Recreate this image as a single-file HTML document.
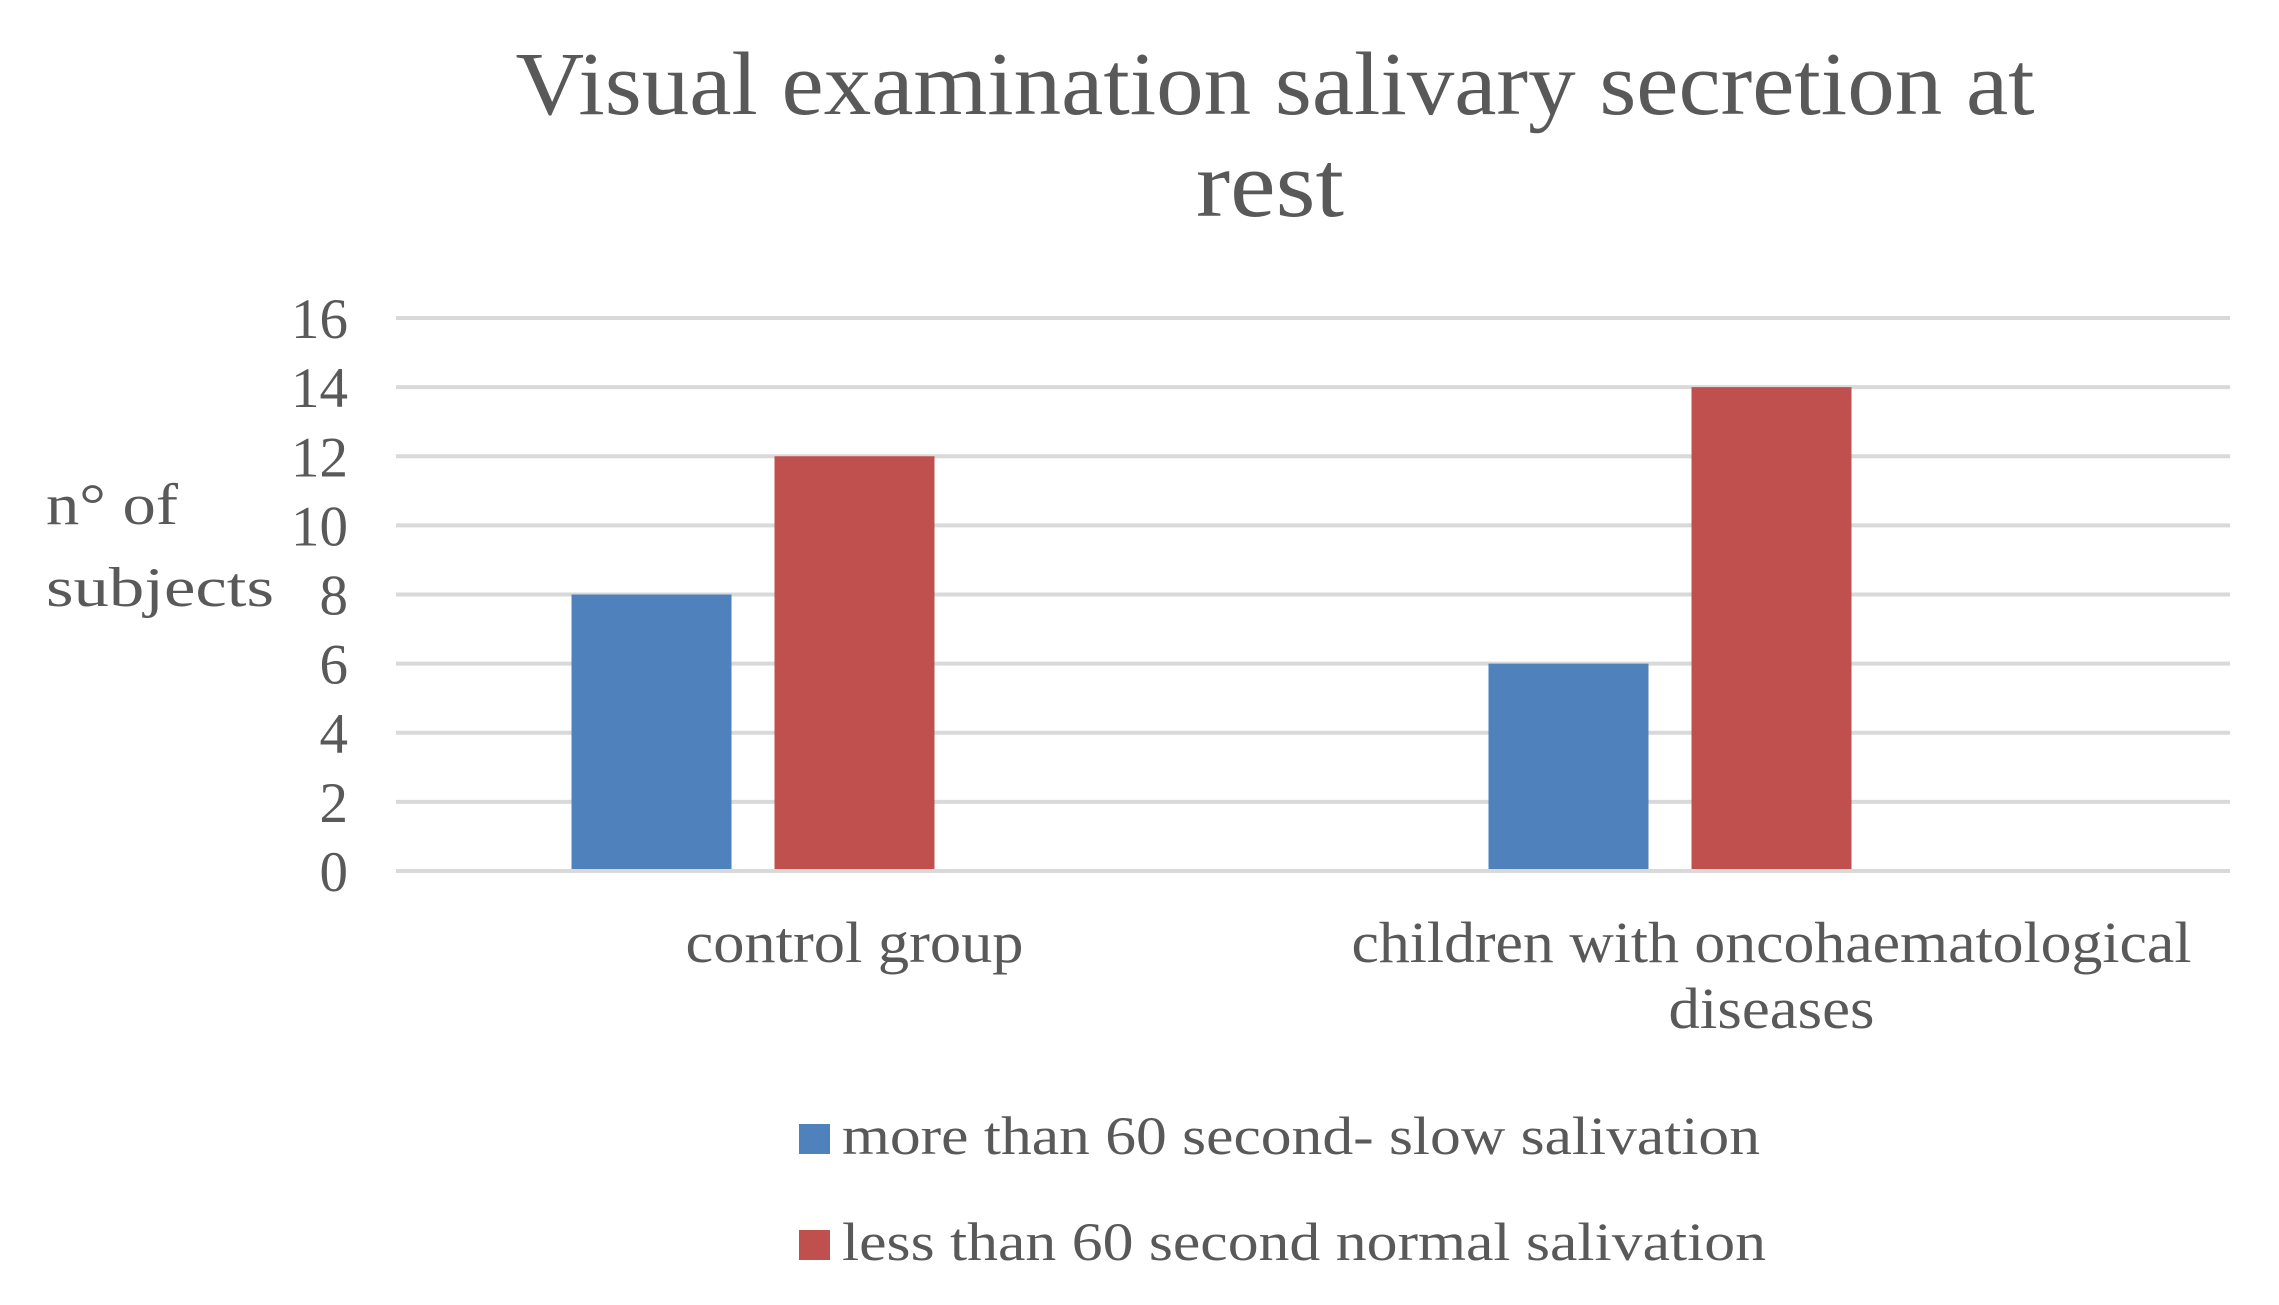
<!DOCTYPE html>
<html><head><meta charset="utf-8"><style>
html,body{margin:0;padding:0;background:#fff;}
svg{display:block;font-family:"Liberation Serif",serif;}
</style></head><body>
<svg id="chart" width="2279" height="1305" viewBox="0 0 2279 1305">
<text x="1275" y="114" text-anchor="middle" font-size="90" fill="#595959" textLength="1519" lengthAdjust="spacingAndGlyphs">Visual examination salivary secretion at</text>
<text x="1270" y="216" text-anchor="middle" font-size="94" fill="#595959" textLength="148" lengthAdjust="spacingAndGlyphs">rest</text>
<text x="46" y="524" font-size="58" fill="#595959" textLength="132" lengthAdjust="spacingAndGlyphs">n° of</text>
<text x="46" y="606" font-size="56" fill="#595959" textLength="228" lengthAdjust="spacingAndGlyphs">subjects</text>
<g id="grid"></g><g id="bars"></g><g id="xlabels"></g>
<rect x="799" y="1124" width="31" height="30" fill="#4f81bd"/>
<text x="842" y="1154" font-size="54" fill="#595959" textLength="918" lengthAdjust="spacingAndGlyphs">more than 60 second- slow salivation</text>
<rect x="799" y="1230" width="31" height="30" fill="#c0504d"/>
<text x="842" y="1260" font-size="54" fill="#595959" textLength="924" lengthAdjust="spacingAndGlyphs">less than 60 second normal salivation</text>
</svg>
<script>
const categories = ["control group", "children with oncohaematological|diseases"];
const slowValues = [8, 6];
const normalValues = [12, 14];
const yTicks = [0, 2, 4, 6, 8, 10, 12, 14, 16];
const NS = "http://www.w3.org/2000/svg";
const plotL = 396, plotR = 2230, plotT = 318, plotB = 871, yMax = 16;
function yScale(v){ return plotB - (v / yMax) * (plotB - plotT); }
const catW = (plotR - plotL) / categories.length;
function xCenter(i){ return plotL + catW * (i + 0.5); }
const barW = 160, step = 203;
const labelWidths = [[338], [840, 206]];
function mk(tag, attrs){ const e = document.createElementNS(NS, tag); for (const k in attrs) e.setAttribute(k, attrs[k]); return e; }
const grid = document.getElementById('grid');
yTicks.forEach(t => {
  const y = yScale(t);
  const l = mk('line', {x1: plotL, x2: plotR, y1: y, y2: y, stroke: '#d9d9d9', 'stroke-width': 4});
  
  
  grid.appendChild(l);
  const tx = mk('text', {x: 348, y: y + 20, 'text-anchor': 'end', 'font-size': 57, fill: '#595959'});
  tx.textContent = t;
  
  
  grid.appendChild(tx);
});
const bars = document.getElementById('bars');
const series = [{vals: slowValues, color: '#4f81bd', off: -1, name: 'slow'}, {vals: normalValues, color: '#c0504d', off: 0, name: 'normal'}];
series.forEach(s => {
  s.vals.forEach((v, i) => {
    const cx = xCenter(i) + s.off * step;
    const r = mk('rect', {x: cx - barW / 2, y: yScale(v), width: barW, height: plotB - 2 - yScale(v), fill: s.color});
    
    
    bars.appendChild(r);
  });
});
const xl = document.getElementById('xlabels');
categories.forEach((c, i) => {
  c.split('|').forEach((line, j) => {
    const t = mk('text', {x: xCenter(i), y: 962 + j * 66, 'text-anchor': 'middle', 'font-size': 58, fill: '#595959', textLength: labelWidths[i][j], lengthAdjust: 'spacingAndGlyphs'});
    t.textContent = line;
    
    
    xl.appendChild(t);
  });
});
</script>
</body></html>
